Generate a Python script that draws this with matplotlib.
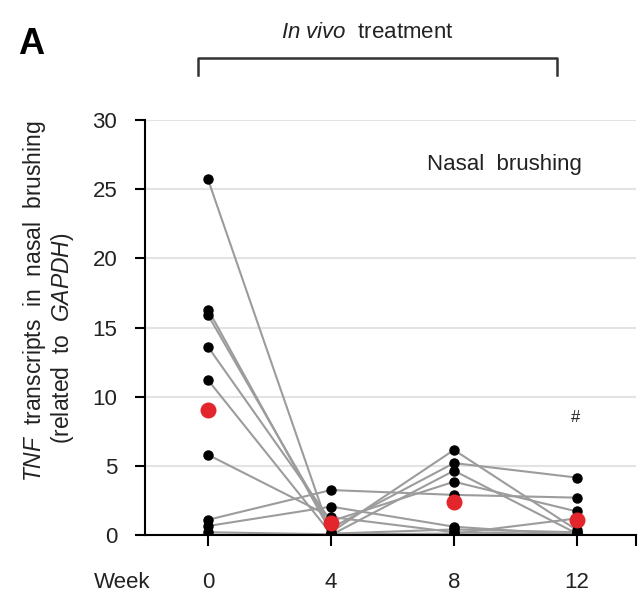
import matplotlib.pyplot as plt
from matplotlib.lines import Line2D

plt.rcParams["font.family"] = ["Liberation Sans", "DejaVu Sans"]
plt.rcParams["mathtext.fontset"] = "custom"
plt.rcParams["mathtext.rm"] = "Liberation Sans"
plt.rcParams["mathtext.it"] = "Liberation Sans:italic"

weeks = [0, 4, 8, 12]
week_labels = ["0", "4", "8", "12"]

# one row per patient, values at week 0, 4, 8, 12
patients = [
    [25.7, 0.0, 4.65, 0.1],
    [16.3, 0.2, 6.15, 0.35],
    [15.9, 0.5, 5.2, 4.15],
    [13.6, 1.0, 3.85, 1.7],
    [11.2, 0.1, 0.4, 0.2],
    [5.8, 1.3, 0.2, 0.05],
    [1.1, 3.25, 2.9, 2.7],
    [0.65, 2.05, 0.6, 0.0],
    [0.2, 0.05, 0.1, 1.2],
    [0.0, 0.0, 0.05, 0.0],
]
means = [9.05, 0.85, 2.4, 1.05]

txt = "#222222"
fig = plt.figure(figsize=(6.39, 5.98), dpi=100)
ax = fig.add_axes([145 / 639, 63 / 598, 491 / 639, 415 / 598])

for p in patients:
    ax.plot(weeks, p, color="#9c9c9c", lw=1.5, zorder=2)
for p in patients:
    ax.plot(weeks, p, ls="none", marker="o", ms=6.5, color="black", zorder=3)
ax.plot(weeks, means, ls="none", marker="o", ms=11.5, color="#e3262b",
        mec="none", zorder=4)

ax.set_xlim(-2.05, 13.92)
ax.set_ylim(0, 30)
ax.set_yticks(range(0, 31, 5))
ax.set_xticks(weeks + [13.92])
ax.set_xticklabels(week_labels + [""])
ax.yaxis.grid(True, color="#e3e3e3", lw=1.5)
ax.set_axisbelow(True)
ax.tick_params(axis="y", direction="out", length=7, width=1.5, labelsize=16, pad=13)
ax.tick_params(axis="x", direction="out", length=8, width=1.5, labelsize=16, pad=19)
for s in ["top", "right"]:
    ax.spines[s].set_visible(False)
for s in ["left", "bottom"]:
    ax.spines[s].set_linewidth(1.5)
for lab in ax.get_xticklabels() + ax.get_yticklabels():
    lab.set_color(txt)

fig.text(122 / 639, 1 - 583 / 598, "Week", fontsize=16, ha="center", va="center",
         color=txt)
fig.text(35 / 639, 1 - 301 / 598, r"$\it{TNF}$  transcripts  in  nasal  brushing",
         rotation=90, fontsize=16.5, ha="center", va="center", color=txt)
fig.text(63 / 639, 1 - 338 / 598, r"(related  to  $\it{GAPDH)}$",
         rotation=90, fontsize=16.5, ha="center", va="center", color=txt)

fig.text(504 / 639, 1 - 165 / 598, "Nasal  brushing", fontsize=16, ha="center",
         va="center", color=txt)
fig.text(576 / 639, 1 - 418 / 598, "#", fontsize=12, ha="center", va="center",
         color=txt)

fig.text(31 / 639, 1 - 45 / 598, "A", fontsize=26, fontweight="bold", ha="center",
         va="center")
fig.text(367 / 639, 1 - 33 / 598, r"$\it{In\ vivo}$  treatment", fontsize=16,
         ha="center", va="center", color=txt)
bx = [198 / 639, 198 / 639, 557 / 639, 557 / 639]
by = [1 - 75 / 598, 1 - 58 / 598, 1 - 58 / 598, 1 - 75 / 598]
fig.add_artist(Line2D(bx, by, color="#333333", lw=1.8, transform=fig.transFigure))

fig.savefig("out.png", dpi=100)
